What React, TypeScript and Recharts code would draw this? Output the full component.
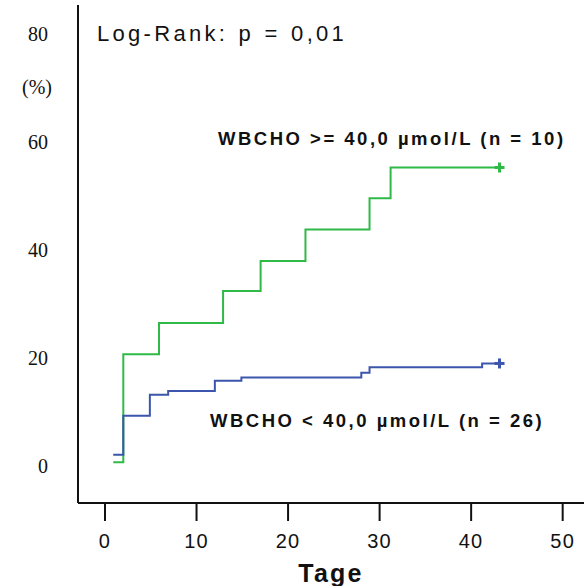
import { LineChart, Line, XAxis, YAxis } from 'recharts'

const greenDays = [0.9, 2, 5.9, 12.9, 17, 21.9, 28.9, 31.2, 43.1]
const greenPct = [0.7, 20.7, 26.5, 32.4, 38, 43.8, 49.6, 55.3, 55.3]
const blueDays = [0.9, 2, 4.9, 6.9, 12, 14.9, 28, 28.9, 41.2, 43.1]
const bluePct = [2.1, 9.3, 13.2, 13.9, 15.8, 16.4, 17.3, 18.3, 19, 19]
const xTicks = [0, 10, 20, 30, 40, 50]
const yTicks = [0, 20, 40, 60, 80]

const greenData = greenDays.map((d, i) => ({ day: d, pct: greenPct[i] }))
const blueData = blueDays.map((d, i) => ({ day: d, pct: bluePct[i] }))

const GREEN = '#2fba47'
const BLUE = '#3b56ac'

const censor = (color: string, last: number) => (props: any) => {
  const { cx, cy, index } = props
  if (index !== last) return <g key={`d-${index}`} />
  return (
    <g key={`d-${index}`}>
      <line x1={cx - 5} x2={cx + 5} y1={cy} y2={cy} stroke={color} strokeWidth={3} />
      <line x1={cx} x2={cx} y1={cy - 5} y2={cy + 5} stroke={color} strokeWidth={3} />
    </g>
  )
}

const YTick = ({ y, payload }: any) => (
  <text x={48} y={y} dy={7} textAnchor="end" fontFamily="'Liberation Serif', serif" fontSize={20} fill="#111">
    {payload.value}
  </text>
)

const XTick = ({ x, y, payload }: any) => (
  <text x={x} y={y + 25} textAnchor="middle" fontFamily="'Liberation Sans', Arial, sans-serif" fontSize={20} letterSpacing={1.2} fill="#111">
    {payload.value}
  </text>
)

export default function App() {
  const sans = "'Liberation Sans', Arial, sans-serif"
  return (
    <div style={{ position: 'absolute', left: 0, top: 0, background: '#fff' }}>
      <LineChart width={584} height={586} margin={{ top: 5, right: 0, bottom: 0, left: 0 }}>
        <XAxis
          xAxisId="top"
          orientation="top"
          dataKey="day"
          type="number"
          domain={[-2.95, 52.33]}
          allowDataOverflow
          height={0}
          tick={false}
          tickLine={false}
          axisLine={{ stroke: '#111', strokeWidth: 2 }}
        />
        <XAxis
          dataKey="day"
          type="number"
          domain={[-2.95, 52.33]}
          allowDataOverflow
          ticks={xTicks}
          height={83}
          tick={<XTick />}
          tickSize={18}
          tickLine={{ stroke: '#111', strokeWidth: 2 }}
          axisLine={{ stroke: '#111', strokeWidth: 2 }}
          label={{ value: 'Tage', position: 'insideBottom', offset: 4, fontFamily: sans, fontSize: 25, fontWeight: 'bold', letterSpacing: 2.2, fill: '#111' }}
        />
        <YAxis
          type="number"
          domain={[-6.85, 85.4]}
          allowDataOverflow
          ticks={yTicks}
          width={78}
          tick={<YTick />}
          tickLine={false}
          axisLine={{ stroke: '#111', strokeWidth: 2 }}
          label={{
            content: () => (
              <text x={52} y={94} textAnchor="end" fontFamily="'Liberation Serif', serif" fontSize={20} fill="#111">
                (%)
              </text>
            ),
          }}
        />
        <Line
          data={greenData}
          dataKey="pct"
          type="stepAfter"
          stroke={GREEN}
          strokeWidth={2}
          dot={censor(GREEN, greenData.length - 1)}
          activeDot={false}
          isAnimationActive={false}
        />
        <Line
          data={blueData}
          dataKey="pct"
          type="stepAfter"
          stroke={BLUE}
          strokeWidth={2}
          dot={censor(BLUE, blueData.length - 1)}
          activeDot={false}
          isAnimationActive={false}
        />
        <text x={97} y={41} fontFamily={sans} fontSize={22} letterSpacing={3.3} wordSpacing={1} fill="#111">
          Log-Rank: p = 0,01
        </text>
        <text x={218} y={145} fontFamily={sans} fontSize={18.5} fontWeight="bold" letterSpacing={2.5} fill="#111">
          WBCHO &gt;= 40,0 µmol/L (n = 10)
        </text>
        <text x={210} y={427} fontFamily={sans} fontSize={18.5} fontWeight="bold" letterSpacing={2.5} fill="#111">
          WBCHO &lt; 40,0 µmol/L (n = 26)
        </text>
      </LineChart>
    </div>
  )
}
